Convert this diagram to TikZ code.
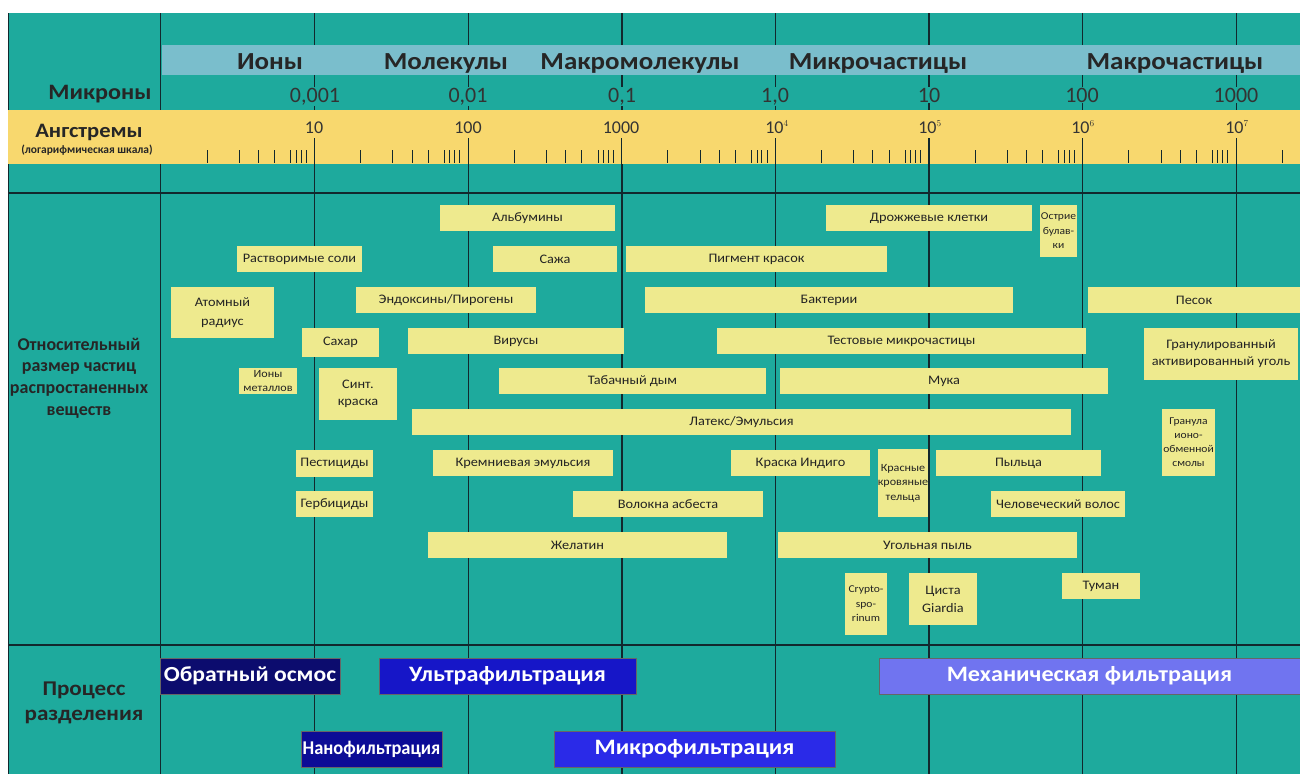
\documentclass[tikz,border=0pt]{standalone}
\usepackage{fontspec}
\setmainfont{Carlito}
\newfontfamily\wideA{Carlito}[FakeStretch=1.1]
\definecolor{tealbg}{RGB}{30,170,157}
\definecolor{lineC}{RGB}{18,40,45}
\definecolor{bandB}{RGB}{122,190,204}
\definecolor{bandY}{RGB}{248,216,110}
\definecolor{boxY}{RGB}{238,234,142}
\definecolor{procA}{RGB}{12,12,110}
\definecolor{procB}{RGB}{22,22,200}
\definecolor{procN}{RGB}{12,12,150}
\definecolor{procM}{RGB}{42,42,232}
\definecolor{procC}{RGB}{112,116,240}
\definecolor{txt}{RGB}{35,35,35}
\newcommand\fs[1]{\fontsize{#1}{#1}\selectfont}
\newcommand\bx[7]{\node[ybox,minimum width={(#4-#2)*1pt},minimum height={(#5-#3)*1pt},#6] (#1) at ({(#2+#4)/2},{(#3+#5)/2}) {#7};}
\newcommand\px[7]{\node[pbox,fill=#6,minimum width={(#4-#2)*1pt},minimum height={(#5-#3)*1pt}] (#1) at ({(#2+#4)/2},{(#3+#5)/2}) {#7};}
\tikzset{
  ybox/.style={fill=boxY,inner sep=0pt,align=center,text=txt,font=\wideA\fs{13}},
  small/.style={font=\wideA\fs{10.5},execute at begin node=\setlength{\baselineskip}{14.5pt}},
  twol/.style={execute at begin node=\setlength{\baselineskip}{18pt}},
  pbox/.style={draw=black!60,line width=0.6pt,inner sep=0pt,text=white,font=\wideA\bfseries\fs{22}},
  grid/.style={draw=lineC,line width=1.4pt},
  hdr/.style={font=\wideA\bfseries\fs{24.5},text=black!85,anchor=base},
  mic/.style={font=\fs{22},text=black!80,fill=tealbg,inner sep=1pt,anchor=base},
  ang/.style={font=\fs{18},text=black!80,inner sep=0pt,anchor=base},
  lab/.style={font=\bfseries\fs{18},text=black!85,align=center},
  tick/.style={draw=lineC,line width=0.9pt}
}
\begin{document}
\begin{tikzpicture}[x=1pt,y=-1pt]
\useasboundingbox (0,0) rectangle (1300,774);
\fill[white] (0,0) rectangle (1300,774);
\fill[tealbg] (8,13) rectangle (1300,774);
\draw[lineC,line width=0.8pt] (8,13) -- (8,774);
% grid lines
\draw[grid] (8,193) -- (1300,193);
\draw[grid] (8,645) -- (1300,645);
\draw[grid] (160.5,13) -- (160.5,774);
\foreach \d in {1,...,7} {\draw[grid] ({161+153.6*\d},13) -- ({161+153.6*\d},774);}
% bands
\fill[bandB] (162,45) rectangle (1300,75);
\fill[bandY] (8,110) rectangle (1300,164);
\foreach \d in {1,...,7} {\draw[tick,line width=1.3pt] ({161+153.6*\d},138) -- ({161+153.6*\d},164);}
\foreach \d in {0,...,7} {
  \foreach \f in {0.30,0.51,0.635,0.74,0.845,0.88,0.912,0.945} {
    \pgfmathsetmacro\xx{161+153.6*(\d+\f)}
    \ifdim\xx pt<1299pt \draw[tick] (\xx,150) -- (\xx,163); \fi
  }
}
% headers
\node[hdr] (h1) at (270,69) {Ионы};
\node[hdr] (h2) at (446,69) {Молекулы};
\node[hdr] (h3) at (640,69) {Макромолекулы};
\node[hdr] (h4) at (878,69) {Микрочастицы};
\node[hdr] (h5) at (1175,69) {Макрочастицы};
% microns
\node[mic] (m1) at (315,102) {0,001};
\node[mic] (m2) at (468,102) {0,01};
\node[mic] (m3) at (622,102) {0,1};
\node[mic] (m4) at (775,102) {1,0};
\node[mic] (m5) at (929,102) {10};
\node[mic] (m6) at (1082,102) {100};
\node[mic] (m7) at (1236,102) {1000};
% angstrom
\node[ang] (a1) at (314,133) {10};
\node[ang] (a2) at (468,133) {100};
\node[ang] (a3) at (621,133) {1000};
\node[ang] (a4) at (777,133) {10$^{\scriptscriptstyle 4}$};
\node[ang] (a5) at (930,133) {10$^{\scriptscriptstyle 5}$};
\node[ang] (a6) at (1083,133) {10$^{\scriptscriptstyle 6}$};
\node[ang] (a7) at (1237,133) {10$^{\scriptscriptstyle 7}$};
% left labels
\node[lab,font=\wideA\bfseries\fs{22},anchor=base] (lm) at (100,99) {Микроны};
\node[lab,font=\wideA\bfseries\fs{20.5},anchor=base] (la) at (89,137) {Ангстремы};
\node[lab,font=\bfseries\fs{11.5},anchor=base] (ls) at (87,153) {(логарифмическая шкала)};
\node[lab,execute at begin node=\setlength{\baselineskip}{21.7pt}] (lr) at (79,378) {Относительный\\размер частиц\\распростаненных\\веществ};
\node[lab,font=\wideA\bfseries\fs{21},execute at begin node=\setlength{\baselineskip}{25pt}] (lp) at (84,703) {Процесс\\разделения};
% boxes
\bx{b1}{440}{205}{615}{231}{}{Альбумины}
\bx{b2}{826}{205}{1032}{231}{}{Дрожжевые клетки}
\bx{b3}{1040}{205}{1077}{257}{small}{Острие\\булав-\\ки}
\bx{b4}{237}{246}{362}{272}{}{Растворимые соли}
\bx{b5}{493}{246}{617}{272}{}{Сажа}
\bx{b6}{626}{246}{887}{272}{}{Пигмент красок}
\bx{b7}{171}{287}{274}{338}{twol,execute at begin node=\setlength{\baselineskip}{19pt}}{Атомный\\радиус}
\bx{b8}{356}{287}{536}{313}{}{Эндоксины/Пирогены}
\bx{b9}{645}{287}{1013}{313}{}{Бактерии}
\bx{b10}{1088}{287}{1300}{313}{}{Песок}
\bx{b11}{302}{328}{379}{357}{}{Сахар}
\bx{b12}{408}{328}{624}{354}{}{Вирусы}
\bx{b13}{717}{328}{1086}{354}{}{Тестовые микрочастицы}
\bx{b14}{1144}{328}{1298}{380}{twol,execute at begin node=\setlength{\baselineskip}{17pt}}{Гранулированный\\активированный уголь}
\bx{b15}{239}{368}{297}{394}{small,font=\wideA\fs{11},execute at begin node=\setlength{\baselineskip}{14pt}}{Ионы\\металлов}
\bx{b16}{319}{368}{397}{420}{twol,execute at begin node=\setlength{\baselineskip}{17.5pt}}{Синт.\\краска}
\bx{b17}{499}{368}{766}{394}{}{Табачный дым}
\bx{b18}{780}{368}{1108}{394}{}{Мука}
\bx{b19}{412}{409}{1071}{435}{}{Латекс/Эмульсия}
\bx{b20}{1162}{409}{1215}{476}{small,execute at begin node=\setlength{\baselineskip}{14pt}}{Гранула\\ионо-\\обменной\\смолы}
\bx{b21}{296}{450}{373}{477}{}{Пестициды}
\bx{b22}{433}{450}{613}{476}{}{Кремниевая эмульсия}
\bx{b23}{731}{450}{870}{476}{}{Краска Индиго}
\bx{b24}{878}{449}{928}{517}{small,font=\wideA\fs{11}}{Красные\\кровяные\\тельца}
\bx{b25}{936}{450}{1101}{476}{}{Пыльца}
\bx{b26}{296}{491}{373}{517}{}{Гербициды}
\bx{b27}{573}{491}{763}{517}{}{Волокна асбеста}
\bx{b28}{991}{491}{1125}{517}{}{Человеческий волос}
\bx{b29}{428}{532}{727}{558}{}{Желатин}
\bx{b30}{778}{532}{1077}{558}{}{Угольная пыль}
\bx{b31}{845}{573}{887}{635}{small}{Crypto-\\spo-\\rinum}
\bx{b32}{909}{573}{977}{625}{twol}{Циста\\Giardia}
\bx{b33}{1062}{573}{1140}{599}{}{Туман}
% processes
\px{p1}{160}{658}{340}{694}{procA}{\fs{21.5}Обратный осмос}
\px{p2}{379}{658}{636}{694}{procB}{Ультрафильтрация}
\px{p3}{879}{658}{1300}{694}{procC}{Механическая фильтрация}
\px{p4}{301}{731}{442}{767}{procN}{\scalebox{0.86}[1]{\fs{19.5}Нанофильтрация}}
\px{p5}{554}{731}{835}{767}{procM}{Микрофильтрация}
\end{tikzpicture}
\end{document}
